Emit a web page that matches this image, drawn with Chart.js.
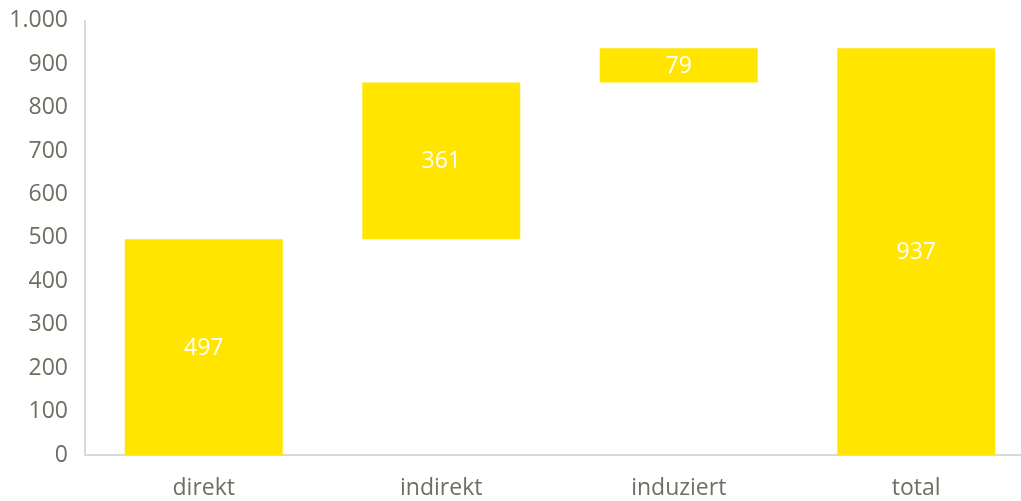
<!DOCTYPE html>
<html>
<head>
<meta charset="utf-8">
<script src="https://cdn.jsdelivr.net/npm/chart.js@4"></script>
<style>
  html, body { margin: 0; padding: 0; background: #fff; }
  #frame { width: 1021px; height: 501px; overflow: hidden; }
  /* plot area runs a bit past the right edge in the original */
  #wrap { width: 1035px; height: 511px; margin-top: -10px; }
</style>
</head>
<body>
<div id="frame"><div id="wrap"><canvas id="myChart"></canvas></div></div>
<script>
'use strict';

let categories = ['direkt', 'indirekt', 'induziert', 'total'];
let increments = [497, 361, 79];
let totalValue = 937;
let yTicks = [0, 100, 200, 300, 400, 500, 600, 700, 800, 900, 1000];

// floating bars: each step starts where the previous one ended
let barRanges = [];
let labels = [];
let running = 0;
for (let i = 0; i < increments.length; i++) {
  barRanges.push([running, running + increments[i]]);
  labels.push(increments[i]);
  running += increments[i];
}
barRanges.push([0, totalValue]);
labels.push(totalValue);

const textColor = '#6e6e64';
const lineColor = '#d9d9d9';

const barLabels = {
  id: 'barLabels',
  afterDatasetsDraw(chart) {
    let ctx = chart.ctx;
    let meta = chart.getDatasetMeta(0);
    ctx.save();
    ctx.fillStyle = '#ffffff';
    ctx.font = '23px "Open Sans"';
    ctx.textAlign = 'center';
    ctx.textBaseline = 'middle';
    meta.data.forEach(function (bar, i) {
      let mid = (bar.y + bar.base) / 2;
      ctx.fillText(String(labels[i]), bar.x, mid + 1);
    });
    ctx.restore();
  }
};

const config = {
  type: 'bar',
  data: {
    labels: categories,
    datasets: [{
      data: barRanges,
      backgroundColor: '#ffe500',
      borderWidth: 0,
      barPercentage: 0.665,
      categoryPercentage: 1
    }]
  },
  options: {
    responsive: true,
    maintainAspectRatio: false,
    animation: false,
    layout: { padding: { top: 12, right: 0, left: 0, bottom: 0 } },
    plugins: {
      legend: { display: false },
      tooltip: { enabled: false }
    },
    scales: {
      x: {
        grid: { display: false, drawTicks: false },
        border: { display: true, color: lineColor, width: 2 },
        ticks: {
          color: textColor,
          font: { family: 'Open Sans', size: 23 },
          padding: 20
        },
        afterFit(scale) { scale.height = 46; }
      },
      y: {
        min: 0,
        max: 1000,
        afterBuildTicks(scale) {
          scale.ticks = yTicks.map(function (v) { return { value: v }; });
        },
        grid: { display: false, drawTicks: false },
        border: { display: true, color: lineColor, width: 2 },
        ticks: {
          color: textColor,
          font: { family: 'Open Sans', size: 23 },
          padding: 17,
          callback(value) { return value.toLocaleString('de-DE'); }
        },
        afterFit(scale) { scale.width = 85; }
      }
    }
  },
  plugins: [barLabels]
};

new Chart(document.getElementById('myChart'), config);
</script>
</body>
</html>
